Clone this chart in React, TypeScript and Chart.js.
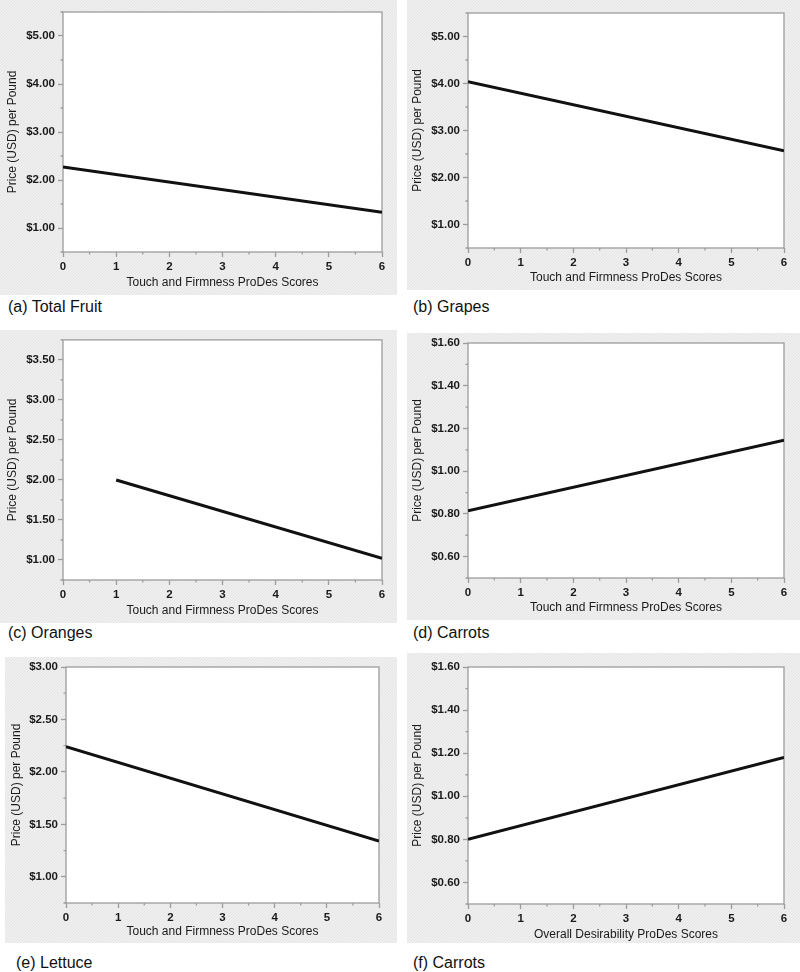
import React, { useEffect, useRef } from "react";
import { Chart, registerables } from "chart.js";

Chart.register(...registerables);

const FONT = '"Liberation Sans", Arial, Helvetica, sans-serif';
const GRAY = "#9c9c9c";

// ---------- data ----------
const xTickValues = [0, 1, 2, 3, 4, 5, 6];
const xMinorValues = [0.5, 1.5, 2.5, 3.5, 4.5, 5.5];

const touchTitle = "Touch and Firmness ProDes Scores";
const overallTitle = "Overall Desirability ProDes Scores";
const yTitle = "Price (USD) per Pound";

const totalFruitScores = [0, 6];
const totalFruitPrice = [2.27, 1.33];

const grapesScores = [0, 6];
const grapesPrice = [4.04, 2.57];

const orangesScores = [1, 6];
const orangesPrice = [2.0, 1.02];

const carrotsTouchScores = [0, 6];
const carrotsTouchPrice = [0.815, 1.145];

const lettuceScores = [0, 6];
const lettucePrice = [2.24, 1.34];

const carrotsOverallScores = [0, 6];
const carrotsOverallPrice = [0.8, 1.18];

const yTicksDollar = [1, 2, 3, 4, 5];
const yMinorDollar = [0.5, 1.5, 2.5, 3.5, 4.5, 5.5];
const yRangeDollar = [0.5, 5.5];

const yTicksOranges = [1, 1.5, 2, 2.5, 3, 3.5];
const yMinorOranges = [0.75, 1.25, 1.75, 2.25, 2.75, 3.25, 3.75];
const yRangeOranges = [0.75, 3.75];

const yTicksCarrots = [0.6, 0.8, 1.0, 1.2, 1.4, 1.6];
const yMinorCarrots = [0.5, 0.7, 0.9, 1.1, 1.3, 1.5];
const yRangeCarrots = [0.5, 1.6];

const yTicksLettuce = [1, 1.5, 2, 2.5, 3];
const yMinorLettuce = [0.75, 1.25, 1.75, 2.25, 2.75];
const yRangeLettuce = [0.75, 3.0];

// ---------- layout ----------
type Panel = {
  caption: string;
  scores: number[];
  prices: number[];
  xTitle: string;
  yTicks: number[];
  yMinor: number[];
  yRange: number[];
  box: { left: number; top: number; width: number; height: number };
  padTop: number;
  padRight: number;
  yAxisWidth: number;
  xAxisHeight: number;
  yTitleCenter: number;
  xTitleOffset: number;
  cap: { x: number; y: number };
};

const panels: Panel[] = [
  {
    caption: "(a) Total Fruit",
    scores: totalFruitScores,
    prices: totalFruitPrice,
    xTitle: touchTitle,
    yTicks: yTicksDollar,
    yMinor: yMinorDollar,
    yRange: yRangeDollar,
    box: { left: 0, top: 0, width: 397, height: 295 },
    padTop: 12,
    padRight: 15,
    yAxisWidth: 63,
    xAxisHeight: 43,
    yTitleCenter: 13,
    xTitleOffset: 31,
    cap: { x: 8, y: 307 },
  },
  {
    caption: "(b) Grapes",
    scores: grapesScores,
    prices: grapesPrice,
    xTitle: touchTitle,
    yTicks: yTicksDollar,
    yMinor: yMinorDollar,
    yRange: yRangeDollar,
    box: { left: 407, top: 0, width: 393, height: 290 },
    padTop: 13,
    padRight: 16,
    yAxisWidth: 61,
    xAxisHeight: 42,
    yTitleCenter: 11,
    xTitleOffset: 30,
    cap: { x: 413, y: 307 },
  },
  {
    caption: "(c) Oranges",
    scores: orangesScores,
    prices: orangesPrice,
    xTitle: touchTitle,
    yTicks: yTicksOranges,
    yMinor: yMinorOranges,
    yRange: yRangeOranges,
    box: { left: 0, top: 330, width: 397, height: 293 },
    padTop: 9,
    padRight: 15,
    yAxisWidth: 63,
    xAxisHeight: 43,
    yTitleCenter: 13,
    xTitleOffset: 31,
    cap: { x: 8, y: 633 },
  },
  {
    caption: "(d) Carrots",
    scores: carrotsTouchScores,
    prices: carrotsTouchPrice,
    xTitle: touchTitle,
    yTicks: yTicksCarrots,
    yMinor: yMinorCarrots,
    yRange: yRangeCarrots,
    box: { left: 407, top: 333, width: 393, height: 287 },
    padTop: 10,
    padRight: 16,
    yAxisWidth: 61,
    xAxisHeight: 42,
    yTitleCenter: 11,
    xTitleOffset: 30,
    cap: { x: 413, y: 633 },
  },
  {
    caption: "(e) Lettuce",
    scores: lettuceScores,
    prices: lettucePrice,
    xTitle: touchTitle,
    yTicks: yTicksLettuce,
    yMinor: yMinorLettuce,
    yRange: yRangeLettuce,
    box: { left: 5, top: 657, width: 392, height: 286 },
    padTop: 10,
    padRight: 18,
    yAxisWidth: 61,
    xAxisHeight: 40,
    yTitleCenter: 12,
    xTitleOffset: 29,
    cap: { x: 16, y: 963 },
  },
  {
    caption: "(f) Carrots",
    scores: carrotsOverallScores,
    prices: carrotsOverallPrice,
    xTitle: overallTitle,
    yTicks: yTicksCarrots,
    yMinor: yMinorCarrots,
    yRange: yRangeCarrots,
    box: { left: 407, top: 653, width: 393, height: 290 },
    padTop: 14,
    padRight: 16,
    yAxisWidth: 61,
    xAxisHeight: 39,
    yTitleCenter: 11,
    xTitleOffset: 31,
    cap: { x: 413, y: 963 },
  },
];

function makePattern(ctx: CanvasRenderingContext2D): CanvasPattern | string {
  const c = document.createElement("canvas");
  c.width = 3;
  c.height = 3;
  const g = c.getContext("2d");
  if (!g) return "#ededed";
  g.fillStyle = "#efefef";
  g.fillRect(0, 0, 3, 3);
  g.fillStyle = "#e5e5e5";
  g.fillRect(0, 0, 1, 1);
  g.fillRect(2, 1, 1, 1);
  g.fillRect(1, 2, 1, 1);
  return ctx.createPattern(c, "repeat") || "#ededed";
}

function PanelChart({ p }: { p: Panel }) {
  const ref = useRef<HTMLCanvasElement>(null);
  useEffect(() => {
    const canvas = ref.current;
    if (!canvas) return;
    const lh = 12 * 1.2;
    const decor = {
      id: "decor",
      beforeDraw(chart: any) {
        const { ctx, chartArea: a, width, height } = chart;
        ctx.save();
        ctx.fillStyle = makePattern(ctx);
        ctx.fillRect(0, 0, width, height);
        ctx.fillStyle = "#ffffff";
        ctx.fillRect(a.left, a.top, a.right - a.left, a.bottom - a.top);
        ctx.restore();
      },
      beforeDatasetsDraw(chart: any) {
        const { ctx, chartArea: a, scales } = chart;
        ctx.save();
        ctx.strokeStyle = GRAY;
        ctx.lineWidth = 1.3;
        ctx.strokeRect(a.left, a.top, a.right - a.left, a.bottom - a.top);
        ctx.beginPath();
        for (const v of xMinorValues) {
          const px = scales.x.getPixelForValue(v);
          ctx.moveTo(px, a.bottom);
          ctx.lineTo(px, a.bottom + 2.5);
        }
        for (const v of p.yMinor) {
          const py = scales.y.getPixelForValue(v);
          ctx.moveTo(a.left - 2.5, py);
          ctx.lineTo(a.left, py);
        }
        ctx.stroke();
        ctx.restore();
      },
    };
    const chart = new Chart(canvas, {
      type: "scatter",
      data: {
        datasets: [
          {
            data: p.scores.map((x, i) => ({ x, y: p.prices[i] })),
            showLine: true,
            borderColor: "#111111",
            backgroundColor: "#111111",
            borderWidth: 3,
            pointRadius: 0,
            pointHoverRadius: 0,
            tension: 0,
          },
        ],
      },
      options: {
        responsive: false,
        animation: false,
        events: [],
        layout: { padding: { left: 0, top: p.padTop, right: p.padRight, bottom: 0 } },
        plugins: {
          legend: { display: false },
          tooltip: { enabled: false },
          title: { display: false },
        },
        scales: {
          x: {
            type: "linear",
            min: 0,
            max: 6,
            afterBuildTicks: (s: any) => {
              s.ticks = xTickValues.map((v) => ({ value: v }));
            },
            afterFit: (s: any) => {
              s.height = p.xAxisHeight;
            },
            ticks: {
              padding: 3,
              color: "#1a1a1a",
              font: { family: FONT, size: 11.5, weight: "bold" },
              maxRotation: 0,
              autoSkip: false,
              callback: (v: any) => String(v),
            },
            grid: {
              drawOnChartArea: false,
              drawTicks: true,
              tickLength: 5,
              tickColor: GRAY,
              tickWidth: 1.3,
            },
            border: { display: false },
            title: {
              display: true,
              text: p.xTitle,
              color: "#1a1a1a",
              font: { family: FONT, size: 12 },
              padding: { top: 0, bottom: p.xAxisHeight - p.xTitleOffset - lh / 2 },
            },
          },
          y: {
            type: "linear",
            min: p.yRange[0],
            max: p.yRange[1],
            afterBuildTicks: (s: any) => {
              s.ticks = p.yTicks.map((v) => ({ value: v }));
            },
            afterFit: (s: any) => {
              s.width = p.yAxisWidth;
            },
            ticks: {
              padding: 3,
              color: "#1a1a1a",
              font: { family: FONT, size: 11.5, weight: "bold" },
              autoSkip: false,
              callback: (v: any) => "$" + Number(v).toFixed(2),
            },
            grid: {
              drawOnChartArea: false,
              drawTicks: true,
              tickLength: 5,
              tickColor: GRAY,
              tickWidth: 1.3,
            },
            border: { display: false },
            title: {
              display: true,
              text: yTitle,
              color: "#1a1a1a",
              font: { family: FONT, size: 12 },
              padding: { top: p.yTitleCenter - lh / 2, bottom: 0 },
            },
          },
        },
      } as any,
      plugins: [decor as any],
    });
    return () => chart.destroy();
  }, [p]);
  return (
    <canvas
      ref={ref}
      width={p.box.width}
      height={p.box.height}
      style={{
        position: "absolute",
        left: p.box.left,
        top: p.box.top,
        width: p.box.width,
        height: p.box.height,
      }}
    />
  );
}

export default function App() {
  return (
    <div
      style={{
        position: "absolute",
        left: 0,
        top: 0,
        width: 800,
        height: 972,
        background: "#ffffff",
        overflow: "hidden",
      }}
    >
      {panels.map((p) => (
        <React.Fragment key={p.caption}>
          <PanelChart p={p} />
          <div
            style={{
              position: "absolute",
              left: p.cap.x,
              top: p.cap.y - 10,
              height: 20,
              lineHeight: "20px",
              fontFamily: FONT,
              fontSize: 16,
              color: "#111111",
              whiteSpace: "nowrap",
            }}
          >
            {p.caption}
          </div>
        </React.Fragment>
      ))}
    </div>
  );
}
